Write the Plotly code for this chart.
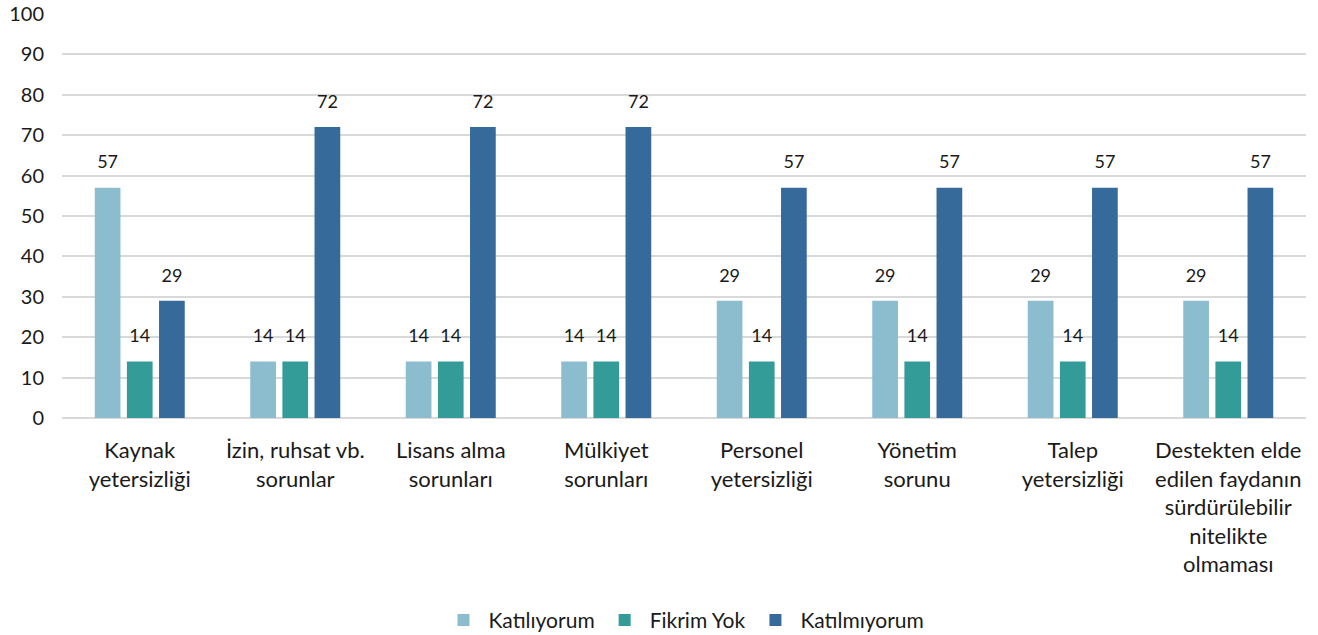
import plotly.graph_objects as go

categories = [
    "Kaynak<br>yetersizliği",
    "İzin, ruhsat vb.<br>sorunlar",
    "Lisans alma<br>sorunları",
    "Mülkiyet<br>sorunları",
    "Personel<br>yetersizliği",
    "Yönetim<br>sorunu",
    "Talep<br>yetersizliği",
    "Destekten elde<br>edilen faydanın<br>sürdürülebilir<br>nitelikte<br>olmaması",
]
katiliyorum = [57, 14, 14, 14, 29, 29, 29, 29]
fikrim_yok = [14, 14, 14, 14, 14, 14, 14, 14]
katilmiyorum = [29, 72, 72, 72, 57, 57, 57, 57]

series = [
    ("Katılıyorum", katiliyorum, "#8BBDCF"),
    ("Fikrim Yok", fikrim_yok, "#339B98"),
    ("Katılmıyorum", katilmiyorum, "#356A9B"),
]

font = "Lato, 'Open Sans', sans-serif"

fig = go.Figure()
for name, vals, color in series:
    fig.add_trace(go.Bar(
        x=categories,
        y=vals,
        name=name,
        marker=dict(color=color, line=dict(width=0)),
    ))

# value labels, offset like the bars
for name, vals, color in series:
    fig.add_trace(go.Scatter(
        x=categories,
        y=vals,
        mode="markers+text",
        text=vals,
        textposition="top center",
        textfont=dict(size=18, color="#1a1a1a", family=font),
        marker=dict(size=22, opacity=0),
        showlegend=False,
        hoverinfo="skip",
        cliponaxis=False,
    ))

fig.update_layout(
    barmode="group",
    scattermode="group",
    bargap=0.38,
    bargroupgap=0.2,
    scattergap=0.38,
    template="plotly_white",
    width=1318,
    height=635,
    margin=dict(l=62, r=12, t=14, b=217, autoexpand=False),
    font=dict(family=font, size=20, color="#1a1a1a"),
    plot_bgcolor="white",
    paper_bgcolor="white",
    legend=dict(
        orientation="h",
        x=0.5, xanchor="center",
        y=-0.45, yanchor="top",
        font=dict(size=21),
        traceorder="normal",
        itemwidth=40,
    ),
    yaxis=dict(
        range=[0, 100],
        dtick=10,
        automargin=False,
        showgrid=True,
        gridcolor="#D9D9D9",
        gridwidth=1.5,
        zeroline=True,
        zerolinecolor="#D9D9D9",
        zerolinewidth=1.5,
        ticks="",
        ticklabelstandoff=17,
        tickfont=dict(size=20),
    ),
    xaxis=dict(
        automargin=False,
        showgrid=False,
        ticks="",
        tickangle=0,
        ticklabelstandoff=17,
        tickfont=dict(size=22),
    ),
)

# drop the default 8px body margin so the figure fills the window
fig.write_html("out.html", config={"displayModeBar": False},
               post_script="document.body.style.margin='0';")
